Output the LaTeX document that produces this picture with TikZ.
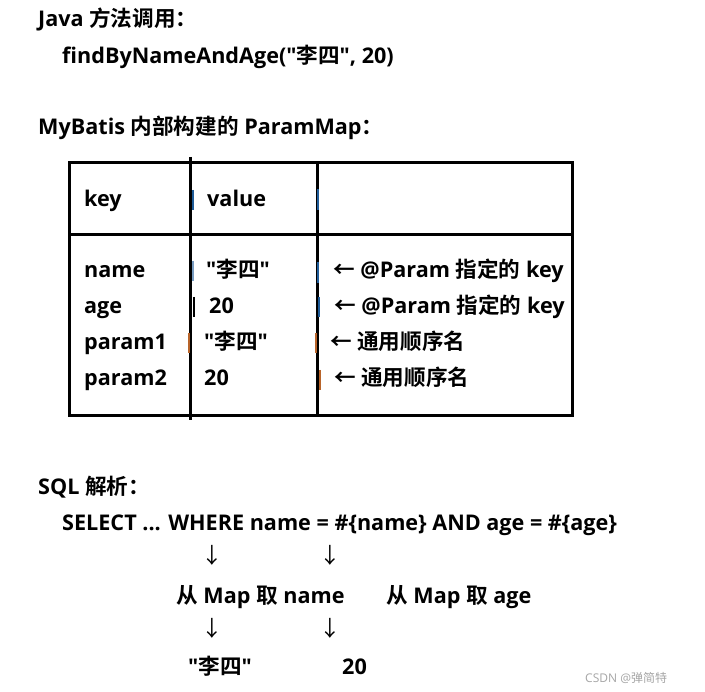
\documentclass[tikz,border=0pt]{standalone}
\usepackage{fontspec}
\setmainfont{Open Sans}[BoldFont={* Bold}]
\newfontfamily\plainf{Open Sans}[BoldFont={* Bold}]
\newfontfamily\cj{Noto Sans CJK SC}[BoldFont={* Bold}]
\newcommand{\C}[1]{{\cj #1}}
\newcommand{\Q}{{\plainf "}}
\begin{document}
\begin{tikzpicture}[x=1pt,y=-1pt,
  txt/.style={anchor=base west,inner sep=0pt,font=\fontsize{21.6}{26}\selectfont\bfseries},
  arr/.style={anchor=base,inner sep=0pt,font=\fontsize{21.6}{26}\selectfont},
  grid/.style={line width=3pt,black},
  cursor/.style={line width=1.6pt}
]
\useasboundingbox[fill=white] (0,0) rectangle (705,692);
% headings
\node[txt] (java) at (38,27) {Java \C{方法调用：}};
\node[txt] (call) at (62,64) {findByNameAndAge(\Q\C{李四}\Q, 20)};
\node[txt] (mb) at (38,135) {MyBatis \C{内部构建的} ParamMap\C{：}};
% table
\coordinate (tl) at (69,163);
\coordinate (br) at (572,416);
\draw[grid] (tl) rectangle (br);
\coordinate (h1) at (69,235);
\coordinate (h2) at (572,235);
\draw[grid] (h1) -- (h2);
\coordinate (v1t) at (190,157);
\coordinate (v1b) at (190,420);
\draw[grid] (v1t) -- (v1b);
\coordinate (v2t) at (317,163);
\coordinate (v2b) at (317,416);
\draw[grid] (v2t) -- (v2b);
% small marks
\definecolor{mblue}{HTML}{1F5C99}
\definecolor{morange}{HTML}{B8642A}
\coordinate (m1a) at (193,190); \coordinate (m1b) at (193,210); \draw[cursor,mblue] (m1a) -- (m1b);
\coordinate (m2a) at (318,189); \coordinate (m2b) at (318,210); \draw[cursor,mblue] (m2a) -- (m2b);
\coordinate (m3a) at (193,261); \coordinate (m3b) at (193,281); \draw[cursor,mblue!60] (m3a) -- (m3b);
\coordinate (m4a) at (318,262); \coordinate (m4b) at (318,283); \draw[cursor,mblue] (m4a) -- (m4b);
\coordinate (m5a) at (194,297); \coordinate (m5b) at (194,317); \draw[cursor,black] (m5a) -- (m5b);
\coordinate (m6a) at (319,297); \coordinate (m6b) at (319,317); \draw[cursor,mblue] (m6a) -- (m6b);
\coordinate (m7a) at (189,333); \coordinate (m7b) at (189,353); \draw[cursor,morange] (m7a) -- (m7b);
\coordinate (m8a) at (316,333); \coordinate (m8b) at (316,353); \draw[cursor,morange] (m8a) -- (m8b);
\coordinate (m9a) at (320,370); \coordinate (m9b) at (320,390); \draw[cursor,morange] (m9a) -- (m9b);
% header row
\node[txt] (key) at (84,207) {key};
\node[txt] (value) at (207,207) {value};
% rows
\node[txt] (k1) at (84,278) {name};
\node[txt] (k2) at (84,314) {age};
\node[txt] (k3) at (84,350) {param1};
\node[txt] (k4) at (84,386) {param2};
\node[txt] (v1) at (206,278) {\Q\C{李四}\Q};
\node[txt] (v2) at (209,314) {20};
\node[txt] (v3) at (204,350) {\Q\C{李四}\Q};
\node[txt] (v4) at (204,386) {20};
\node[txt] (c1) at (333,278) {\C{←} @Param \C{指定的} key};
\node[txt] (c2) at (334,314) {\C{←} @Param \C{指定的} key};
\node[txt] (c3) at (330,350) {\C{←} \C{通用顺序名}};
\node[txt] (c4) at (334,386) {\C{←} \C{通用顺序名}};
% SQL
\node[txt] (sqlh) at (38,495) {SQL \C{解析：}};
\node[txt] (sel) at (62,531) {SELECT ... WHERE name = \#\{name\} AND age = \#\{age\}};
\node[arr] (a1) at (212,564) {\C{↓}};
\node[arr] (a2) at (330,564) {\C{↓}};
\node[txt] (g1) at (176,604) {\C{从} Map \C{取} name};
\node[txt] (g2) at (386,604) {\C{从} Map \C{取} age};
\node[arr] (a3) at (212,637) {\C{↓}};
\node[arr] (a4) at (330,637) {\C{↓}};
\node[txt] (r1) at (188,674) {\Q\C{李四}\Q};
\node[txt] (r2) at (342,674) {20};
\node[anchor=base west,inner sep=0pt,font=\fontsize{12}{14}\selectfont,text=black!35] (wm) at (585,683) {CSDN @\C{弹简特}};
\end{tikzpicture}
\end{document}
